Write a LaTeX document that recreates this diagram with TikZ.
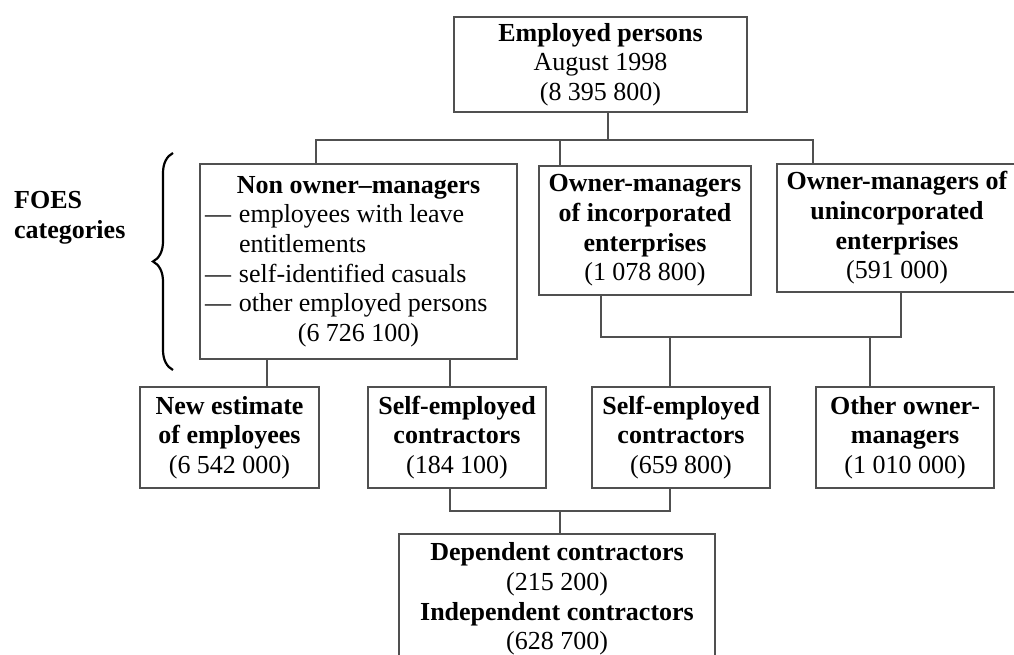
\documentclass[tikz,border=0pt]{standalone}
\usepackage{fontspec}
\setmainfont{Liberation Serif}
\usepackage{xcolor}
\usepackage{tikz}
\usetikzlibrary{decorations.pathreplacing}
\definecolor{linegray}{RGB}{80,80,80}

\begin{document}
\begin{tikzpicture}[x=1pt,y=-1pt,
  box/.style={draw=linegray,line width=2pt,inner sep=0pt,align=center,font=\fontsize{26}{29.7}\selectfont},
  link/.style={draw=linegray,line width=2pt}]
\clip (0,0) rectangle (1014,655);

%Shape: Rectangle [employed persons]
\node [box,minimum width=293pt,minimum height=95pt] (employed) at (600.5,64.5) {\textbf{Employed persons}\\August 1998\\(8 395 800)};
%Shape: Rectangle [FOES categories]
\node [box,minimum width=317pt,minimum height=195pt] (nonowner) at (358.5,261.5) {\begin{tabular}{@{}p{34pt}@{}p{273pt}@{}}
\multicolumn{2}{@{}c@{}}{\textbf{Non owner–managers}}\\
— & employees with leave\\
 & entitlements\\
— & self-identified casuals\\
— & other employed persons\\
\multicolumn{2}{@{}c@{}}{(6 726 100)}
\end{tabular}};
\node [box,minimum width=212pt,minimum height=129pt] (incorp) at (645,230.5) {\textbf{Owner-managers}\\\textbf{of incorporated}\\\textbf{enterprises}\\(1 078 800)};
\node [box,minimum width=240pt,minimum height=128pt] (unincorp) at (897,228) {\textbf{Owner-managers of}\\\textbf{unincorporated}\\\textbf{enterprises}\\(591 000)};
%Shape: Rectangle [second row]
\node [box,minimum width=179pt,minimum height=101pt] (newest) at (229.5,437.5) {\textbf{New estimate}\\\textbf{of employees}\\(6 542 000)};
\node [box,minimum width=178pt,minimum height=101pt] (selfA) at (457,437.5) {\textbf{Self-employed}\\\textbf{contractors}\\(184 100)};
\node [box,minimum width=178pt,minimum height=101pt] (selfB) at (681,437.5) {\textbf{Self-employed}\\\textbf{contractors}\\(659 800)};
\node [box,minimum width=178pt,minimum height=101pt] (other) at (905,437.5) {\textbf{Other owner-}\\\textbf{managers}\\(1 010 000)};
%Shape: Rectangle [contractors]
\node [box,minimum width=316pt,minimum height=130pt] (contract) at (557,599) {\textbf{Dependent contractors}\\(215 200)\\\textbf{Independent contractors}\\(628 700)};

% Text Node
\node [anchor=west,inner sep=0pt,align=left,font=\fontsize{26}{29.7}\selectfont\bfseries] (foes) at (14,218) {FOES\\categories};
%Shape: Brace
\draw [line width=2.2pt,decorate,decoration={brace,amplitude=20pt}] (173,370) -- (173,153);

%Straight Lines
\coordinate (j1) at (608,140);
\coordinate (j2) at (560,140);
\coordinate (b1l) at (316,140);
\coordinate (b1r) at (813,140);
\draw [link] (j1 |- employed.south) -- (j1);
\draw [link] (b1l |- nonowner.north) -- (b1l) -- (b1r) -- (b1r |- unincorp.north);
\draw [link] (j2) -- (j2 |- incorp.north);
%Straight Lines
\coordinate (b2l) at (601,337);
\coordinate (b2r) at (901,337);
\coordinate (j3) at (670,337);
\coordinate (j4) at (870,337);
\draw [link] (b2l |- incorp.south) -- (b2l) -- (b2r) -- (b2r |- unincorp.south);
\draw [link] (j3) -- (j3 |- selfB.north);
\draw [link] (j4) -- (j4 |- other.north);
%Straight Lines
\coordinate (c1) at (267,373);
\coordinate (c2) at (450,373);
\draw [link] (c1 |- nonowner.south) -- (c1 |- newest.north);
\draw [link] (c2 |- nonowner.south) -- (c2 |- selfA.north);
%Straight Lines
\coordinate (b3l) at (450,511);
\coordinate (b3r) at (670,511);
\coordinate (j5) at (560,511);
\draw [link] (b3l |- selfA.south) -- (b3l) -- (b3r) -- (b3r |- selfB.south);
\draw [link] (j5) -- (j5 |- contract.north);

\end{tikzpicture}
\end{document}
